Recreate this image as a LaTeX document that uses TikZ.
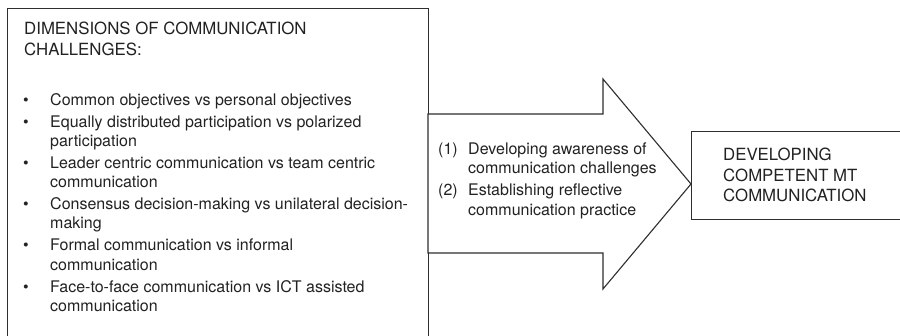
\documentclass[tikz,border=0pt]{standalone}
\usepackage{fontspec}
\setmainfont{TeX Gyre Heros}
\definecolor{ln}{HTML}{2E2E2E}
\definecolor{tx}{HTML}{222222}
\begin{document}
\begin{tikzpicture}[x=1pt,y=-1pt,
  frame/.style={draw=ln, line width=1.1pt, fill=white, inner sep=0pt},
  txt/.style={anchor=base west, inner sep=0pt, text=tx, font=\fontsize{16}{19}\selectfont},
  captxt/.style={anchor=base west, inner sep=0pt, text=tx, font=\fontsize{16.8}{20}\selectfont},
  bul/.style={txt}]
\useasboundingbox (0,0) rectangle (900,336);
\clip (0,0) rectangle (900,336);
% left box (extends below the picture)
\node[frame, anchor=north west, minimum width=421pt, minimum height=350pt] (dims) at (7,8) {};
% big arrow
\draw[draw=ln, line width=1.1pt, fill=white, line join=miter]
  (428,114) coordinate (a1) -- (603,114) coordinate (a2) -- (603,79) coordinate (a3)
  -- (691,184) coordinate (tip) -- (603,289) coordinate (a4) -- (603,253) coordinate (a5)
  -- (428,253) coordinate (a6) -- cycle;
% right box (extends past the right edge)
\node[frame, anchor=north west, minimum width=260pt, minimum height=88pt] (goal) at (691,131) {};

% title
\node[captxt] (t1) at (24,35) {DIMENSIONS OF COMMUNICATION};
\node[captxt] (t2) at (24,56) {CHALLENGES:};

% bullets
\node[bul] (b1) at (23,105.3) {\textbullet};
\node[bul] (b2) at (23,127.3) {\textbullet};
\node[bul] (b3) at (23,168.2) {\textbullet};
\node[bul] (b4) at (23,209.6) {\textbullet};
\node[bul] (b5) at (23,251) {\textbullet};
\node[bul] (b6) at (23,292.5) {\textbullet};

\node[txt] (i1) at (50,105.3) {Common objectives vs personal objectives};
\node[txt] (i2a) at (50,127.3) {Equally distributed participation vs polarized};
\node[txt] (i2b) at (50,146.5) {participation};
\node[txt] (i3a) at (50,168.2) {Leader centric communication vs team centric};
\node[txt] (i3b) at (50,187.4) {communication};
\node[txt] (i4a) at (50,209.6) {Consensus decision-making vs unilateral decision-};
\node[txt] (i4b) at (50,228.8) {making};
\node[txt] (i5a) at (50,251) {Formal communication vs informal};
\node[txt] (i5b) at (50,270.5) {communication};
\node[txt] (i6a) at (50,292.5) {Face-to-face communication vs ICT assisted};
\node[txt] (i6b) at (50,312) {communication};

% arrow text
\node[txt] (n1) at (438,154.3) {(1)};
\node[txt] (s1a) at (468,154.3) {Developing awareness of};
\node[txt] (s1b) at (468,173.3) {communication challenges};
\node[txt] (n2) at (438,196) {(2)};
\node[txt] (s2a) at (468,196) {Establishing reflective};
\node[txt] (s2b) at (468,215.2) {communication practice};

% right box text
\node[captxt] (g1) at (723,160.7) {DEVELOPING};
\node[captxt] (g2) at (723,181.2) {COMPETENT MT};
\node[captxt] (g3) at (723,201.5) {COMMUNICATION};
\end{tikzpicture}
\end{document}
